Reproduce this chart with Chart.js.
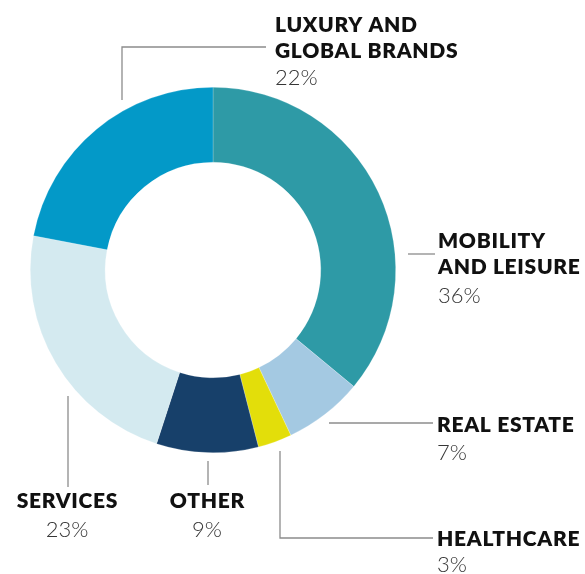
<!DOCTYPE html>
<html>
<head>
<meta charset="utf-8">
<script src="https://cdn.jsdelivr.net/npm/chart.js@4.4.1/dist/chart.umd.min.js"></script>
<style>
  html, body { margin: 0; padding: 0; background: #ffffff; }
  #wrap { width: 585px; height: 574px; }
</style>
</head>
<body>
<div id="wrap"><canvas id="c" width="585" height="574"></canvas></div>
<script>
// ---- data ----
const categories = ["Mobility and Leisure", "Real Estate", "Healthcare", "Other", "Services", "Luxury and Global Brands"];
const labelLines = [["MOBILITY", "AND LEISURE"], ["REAL ESTATE"], ["HEALTHCARE"], ["OTHER"], ["SERVICES"], ["LUXURY AND", "GLOBAL BRANDS"]];
const shares = [36, 7, 3, 9, 23, 22];
const colors = ["#2E9AA6", "#A4C9E2", "#E3DE0A", "#17406A", "#D4EAF0", "#0399C8"];

// ---- callout layout (annotation positions, canvas px) ----
const callouts = [
  { path: [[408, 254], [435, 254]], x: 438, align: "left", base: 248, pctGap: 29 },
  { path: [[329, 423], [433, 423]], x: 437, align: "left", base: 432, pctGap: 28 },
  { path: [[280, 451], [280, 538], [433, 538]], x: 437, align: "left", base: 546, pctGap: 26 },
  { path: [[208, 461], [208, 485]], x: 207, align: "center", base: 508, pctGap: 29 },
  { path: [[68, 396], [68, 487]], x: 67, align: "center", base: 508, pctGap: 29 },
  { path: [[122, 100], [122, 47], [266, 47]], x: 275, align: "left", base: 32, pctGap: 27 }
];

const SPACING = 0.7;

const calloutPlugin = {
  id: "callouts",
  afterDraw(chart) {
    const ctx = chart.ctx;
    const data = chart.data.datasets[0].data;
    ctx.save();
    callouts.forEach((c, i) => {
      ctx.strokeStyle = "#8c8c8c";
      ctx.lineWidth = 1.3;
      ctx.beginPath();
      c.path.forEach((p, k) => k ? ctx.lineTo(p[0], p[1]) : ctx.moveTo(p[0], p[1]));
      ctx.stroke();
      ctx.textAlign = c.align;
      ctx.textBaseline = "alphabetic";
      ctx.fillStyle = "#111111";
      ctx.font = "800 21px Lato, 'Open Sans', sans-serif";
      ctx.letterSpacing = SPACING + "px";
      const dx = c.align === "center" ? SPACING / 2 : 0;
      let y = c.base;
      labelLines[i].forEach((t, k) => {
        if (k) y += 26;
        ctx.fillText(t, c.x + dx, y);
      });
      ctx.letterSpacing = "0px";
      ctx.fillStyle = "#363636";
      ctx.font = "300 22px Lato, 'Open Sans', sans-serif";
      ctx.fillText(data[i] + "%", c.x, y + c.pctGap);
    });
    ctx.restore();
  }
};

new Chart(document.getElementById("c"), {
  type: "doughnut",
  data: {
    labels: categories,
    datasets: [{
      data: shares,
      backgroundColor: colors,
      borderColor: "rgba(255,255,255,0.35)",
      borderWidth: 0.6,
      hoverOffset: 0
    }]
  },
  options: {
    responsive: false,
    animation: false,
    cutout: "59%",
    rotation: 0,
    layout: { padding: { left: 30, right: 189, top: 87, bottom: 121 } },
    plugins: { legend: { display: false }, tooltip: { enabled: false } }
  },
  plugins: [calloutPlugin]
});
</script>
</body>
</html>
